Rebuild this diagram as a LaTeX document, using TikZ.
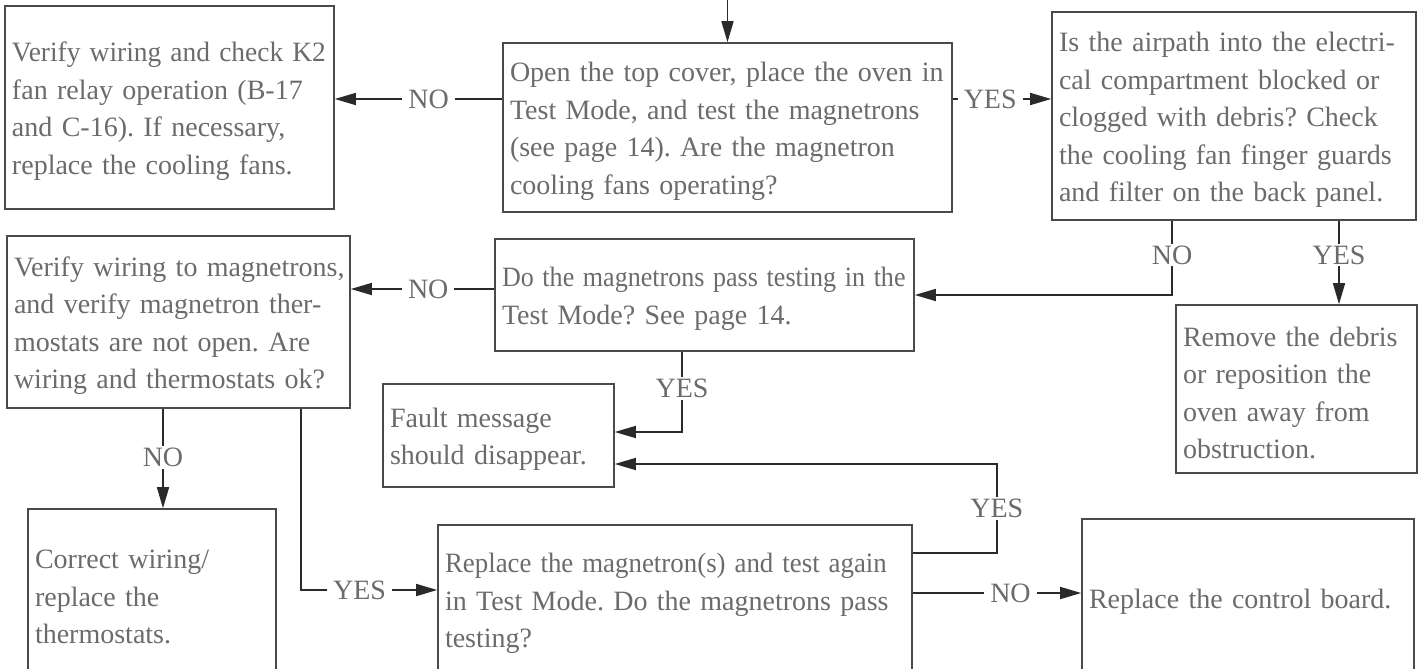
\documentclass[tikz,border=0pt]{standalone}
\usepackage{fontspec}
\usepackage{graphicx}
\setmainfont{Liberation Serif}
\usetikzlibrary{arrows.meta,calc}
\definecolor{txt}{HTML}{6B6B6B}
\definecolor{brd}{HTML}{4A4A4A}
\definecolor{lnc}{HTML}{2A2A2A}
\newcommand{\ml}[1]{\mbox{#1}}
\newcommand{\mlx}[2]{\scalebox{#1}[1]{#2}}
\newcommand{\topgap}{\rule{0pt}{27pt}}
\tikzset{
  box/.style={draw=brd, line width=1.6pt, text=txt, align=left, inner xsep=7pt, inner ysep=0pt},
  arr/.style={draw=lnc, line width=1.6pt, -{Triangle[length=21pt,width=12pt]}},
  lab/.style={fill=white, text=txt, inner xsep=6pt, inner ysep=2pt}
}
\begin{document}
\frenchspacing
\begin{tikzpicture}[x=1pt, y=-1pt, font=\fontsize{28}{37.5}\selectfont]
\useasboundingbox (0,0) rectangle (1419,669);
\clip (0,0) rectangle (1419,669);

\node[box, text width=315pt, minimum height=203pt] (A) at (169.5,107.5)
  {\topgap\mlx{0.98}{Verify wiring and check K2}\\\ml{fan relay operation (B-17}\\\ml{and C-16). If necessary,}\\\ml{replace the cooling fans.}};
\node[box, text width=435pt, minimum height=169pt] (B) at (727.5,127.5)
  {\topgap\ml{Open the top cover, place the oven in}\\\ml{Test Mode, and test the magnetrons}\\\ml{(see page 14). Are the magnetron}\\\ml{cooling fans operating?}};
\node[box, text width=350pt, minimum height=208pt] (C) at (1234,116)
  {\topgap\ml{Is the airpath into the electri-}\\\ml{cal compartment blocked or}\\\ml{clogged with debris? Check}\\\ml{the cooling fan finger guards}\\\ml{and filter on the back panel.}};
\node[box, text width=405pt, minimum height=112pt] (D) at (704.5,295)
  {\topgap\mlx{0.93}{Do the magnetrons pass testing in the}\\\ml{Test Mode? See page 14.}};
\node[box, text width=227pt, minimum height=168pt] (E) at (1296.5,389)
  {\topgap\ml{Remove the debris}\\\ml{or reposition the}\\\ml{oven away from}\\\ml{obstruction.}};
\node[box, text width=329pt, minimum height=172pt] (F) at (178.5,322)
  {\topgap\ml{Verify wiring to magnetrons,}\\\ml{and verify magnetron ther-}\\\ml{mostats are not open. Are}\\\ml{wiring and thermostats ok?}};
\node[box, text width=217pt, minimum height=103pt] (Fault) at (498.5,435.5)
  {\topgap\ml{Fault message}\\\ml{should disappear.}};
\node[box, text width=234pt, minimum height=168pt] (G) at (152,593)
  {\topgap\ml{Correct wiring/}\\\ml{replace the}\\\ml{thermostats.}};
\node[box, text width=460pt, minimum height=150pt] (H) at (675,600)
  {\topgap\mlx{0.96}{Replace the magnetron(s) and test again}\\\ml{in Test Mode. Do the magnetrons pass}\\\ml{testing?}};
\node[box, text width=318pt, minimum height=158pt] (I) at (1248,598)
  {\topgap\ml{Replace the control board.}};

\coordinate (top) at (727.5,-10);
\draw[arr] (top) -- (B.north);
\draw[arr] ([yshift=28.5pt]B.west) coordinate (p1) -- node[lab,pos=0.44]{NO} (p1 -| A.east);
\draw[arr] ([yshift=28.5pt]B.east) coordinate (p2) -- node[lab,pos=0.38]{YES} (p2 -| C.west);
\draw[arr] ([xshift=-62pt]C.south) |- node[lab,pos=0.23]{NO} (D.east);
\draw[arr] ([xshift=105pt]C.south) coordinate (p4) -- node[lab,pos=0.41]{YES} (p4 |- E.north);
\draw[arr] ([yshift=6pt]D.west) coordinate (p5) -- node[lab,pos=0.46]{NO} (p5 -| F.east);
\draw[arr] ([xshift=-22.5pt]D.south) |- node[lab,pos=0.23]{YES} ([yshift=3.5pt]Fault.east);
\draw[arr] ([xshift=-15.5pt]F.south) coordinate (p7) -- node[lab,pos=0.49]{NO} (p7 |- G.north);
\draw[arr] ([xshift=122.5pt]F.south) |- node[lab,pos=0.715]{YES} ([yshift=10pt]H.west);
\draw[arr] ([yshift=47pt]H.east) -- ++(84pt,0) |- node[lab,pos=0.25]{YES} ([yshift=-28.5pt]Fault.east);
\draw[arr] ([yshift=7pt]H.east) coordinate (p10) -- node[lab,pos=0.58]{NO} (p10 -| I.west);
\end{tikzpicture}
\end{document}
